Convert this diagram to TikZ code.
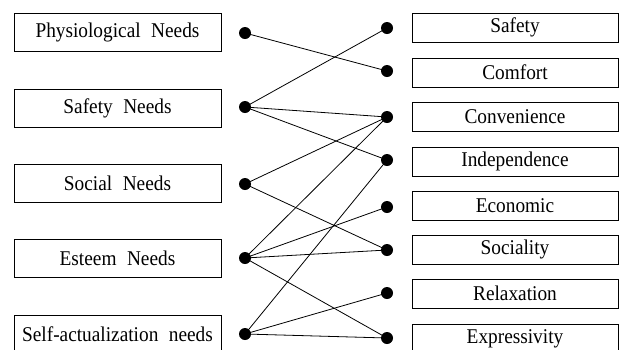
\documentclass[tikz,border=0pt]{standalone}
\usepackage{fontspec}
\setmainfont{Liberation Serif}[FakeStretch=0.92]
\newcommand{\wgap}{\hspace{0.5em}}
\begin{document}
\begin{tikzpicture}[x=1pt,y=-1pt,
  lbox/.style={draw, line width=1pt, minimum width=207pt, minimum height=38pt, inner sep=0pt, font=\fontsize{21}{22}\selectfont},
  rbox/.style={draw, line width=1pt, minimum width=206pt, minimum height=29pt, inner sep=0pt, font=\fontsize{21}{22}\selectfont},
  dotn/.style={circle, fill=black, inner sep=0pt, minimum size=12pt},
  link/.style={line width=0.8pt}]
\clip (0,0) rectangle (621,349);
% left boxes
\node[lbox] (l1) at (117.5,32) {Physiological\wgap Needs};
\node[lbox] (l2) at (117.5,108) {Safety\wgap Needs};
\node[lbox] (l3) at (117.5,183) {Social\wgap Needs};
\node[lbox] (l4) at (117.5,258) {Esteem\wgap Needs};
\node[lbox] (l5) at (117.5,334) {Self-actualization\wgap needs};
% right boxes
\node[rbox] (r1) at (515,27.5) {Safety};
\node[rbox] (r2) at (515,72.5) {Comfort};
\node[rbox] (r3) at (515,116.5) {Convenience};
\node[rbox] (r4) at (515,161.5) {Independence};
\node[rbox] (r5) at (515,205.5) {Economic};
\node[rbox] (r6) at (515,249.5) {Sociality};
\node[rbox] (r7) at (515,293.5) {Relaxation};
\node[rbox] (r8) at (515,338.5) {Expressivity};
% left dots
\node[dotn] (a1) at (245,33) {};
\node[dotn] (a2) at (245,107) {};
\node[dotn] (a3) at (245,184) {};
\node[dotn] (a4) at (245,258) {};
\node[dotn] (a5) at (245,334) {};
% right dots
\node[dotn] (b1) at (387,28) {};
\node[dotn] (b2) at (387,71) {};
\node[dotn] (b3) at (387,117) {};
\node[dotn] (b4) at (387,160) {};
\node[dotn] (b5) at (387,207) {};
\node[dotn] (b6) at (387,250) {};
\node[dotn] (b7) at (387,293) {};
\node[dotn] (b8) at (387,338) {};
% links
\draw[link] (a1.center) -- (b2.center);
\draw[link] (a2.center) -- (b1.center);
\draw[link] (a2.center) -- (b3.center);
\draw[link] (a2.center) -- (b4.center);
\draw[link] (a3.center) -- (b3.center);
\draw[link] (a3.center) -- (b6.center);
\draw[link] (a4.center) -- (b3.center);
\draw[link] (a4.center) -- (b5.center);
\draw[link] (a4.center) -- (b6.center);
\draw[link] (a4.center) -- (b8.center);
\draw[link] (a5.center) -- (b4.center);
\draw[link] (a5.center) -- (b7.center);
\draw[link] (a5.center) -- (b8.center);
\end{tikzpicture}
\end{document}
